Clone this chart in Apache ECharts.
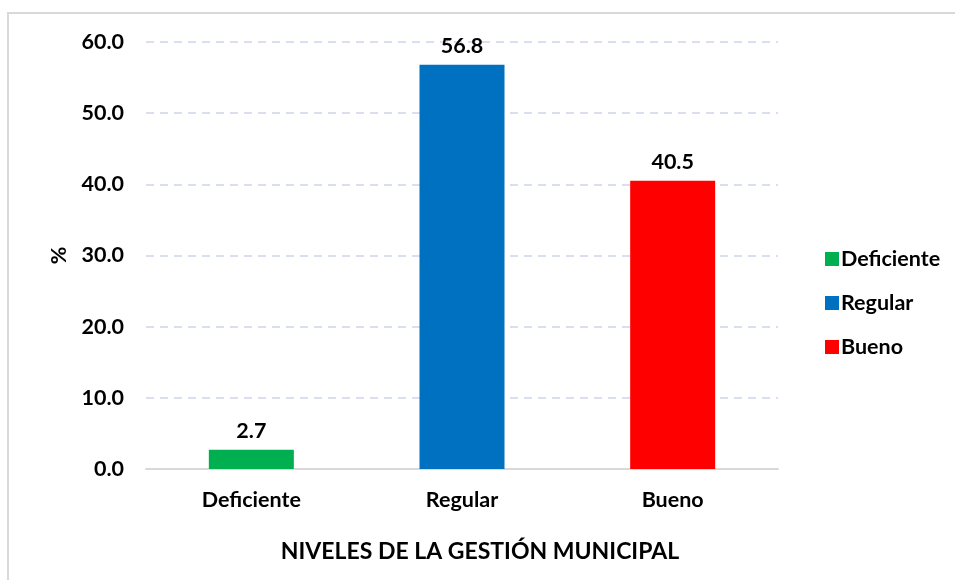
<!DOCTYPE html>
<html>
<head>
<meta charset="utf-8">
<script src="https://cdn.jsdelivr.net/npm/echarts@6/dist/echarts.min.js"></script>
<style>
  html, body { margin: 0; padding: 0; background: #fff; overflow: hidden; }
  #frame { position: absolute; left: 7px; top: 12px; width: 1000px; height: 1000px;
           border-left: 2px solid #d9d9d9; border-top: 2px solid #d9d9d9; }
  #chart { position: absolute; left: 0; top: 0; width: 955px; height: 580px; }
</style>
</head>
<body>
<div id="frame"></div>
<div id="chart"></div>
<script>
const categories = ['Deficiente', 'Regular', 'Bueno']
const values = [2.7, 56.8, 40.5]
const colors = ['#00B050', '#0070C0', '#FF0000']
const yTicks = [0, 10, 20, 30, 40, 50, 60]

const font = 'Lato, "Open Sans", sans-serif'
const fs = 21.5
const chart = echarts.init(document.getElementById('chart'))

// one series per level so the legend gets three entries
const series = categories.map((name, i) => ({
  name,
  type: 'bar',
  stack: 'all',
  barWidth: 85,
  data: categories.map((c, j) => (j === i ? values[i] : '-')),
  itemStyle: { color: colors[i] },
  label: {
    show: true,
    position: 'top',
    distance: 8,
    formatter: (p) => p.value.toFixed(1),
    color: '#000',
    fontWeight: 'bold',
    fontSize: fs,
    fontFamily: font
  }
}))

chart.setOption({
  backgroundColor: 'transparent',
  animation: false,
  title: {
    text: 'NIVELES DE LA GESTIÓN MUNICIPAL',
    left: 475,
    top: 535,
    textAlign: 'center',
    textStyle: { fontSize: 23, fontWeight: 'bold', color: '#000', fontFamily: font }
  },
  legend: {
    orient: 'vertical',
    left: 820,
    top: 243,
    itemWidth: 14,
    itemHeight: 14,
    itemGap: 22,
    icon: 'rect',
    data: categories,
    textStyle: { fontSize: fs, fontWeight: 'bold', color: '#000', fontFamily: font, padding: [0, 0, 0, -3] }
  },
  grid: { left: 146, right: 177, top: 42, bottom: 111 },
  xAxis: {
    type: 'category',
    data: categories,
    axisTick: { show: false },
    axisLine: { lineStyle: { color: '#d9d9d9', width: 2 } },
    axisLabel: { margin: 20, fontSize: fs, fontWeight: 'bold', color: '#000', fontFamily: font }
  },
  yAxis: {
    type: 'value',
    min: yTicks[0],
    max: yTicks[yTicks.length - 1],
    interval: 10,
    name: '%',
    nameLocation: 'middle',
    nameGap: 76,
    nameTextStyle: { fontSize: fs, fontWeight: 'bold', color: '#000', fontFamily: font },
    axisLine: { show: false },
    axisTick: { show: false },
    axisLabel: {
      margin: 22,
      formatter: (v) => v.toFixed(1),
      fontSize: fs, fontWeight: 'bold', color: '#000', fontFamily: font
    },
    splitLine: { lineStyle: { color: '#D9DEF0', type: [8, 6], width: 2 } }
  },
  series
})
</script>
</body>
</html>
